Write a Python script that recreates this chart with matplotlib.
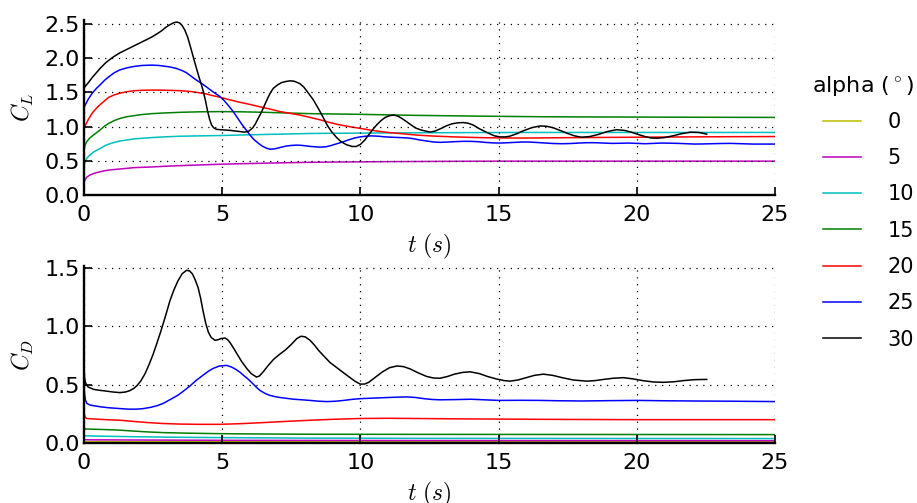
import matplotlib
matplotlib.use('Agg')
import matplotlib.pyplot as plt

plt.rcParams['mathtext.fontset'] = 'cm'
plt.rcParams['font.family'] = ['DejaVu Sans']

# ---------------- data ----------------
alpha_labels = ['0', '5', '10', '15', '20', '25', '30']
legend_title = r'alpha ($^\circ$)'

# Lift coefficient C_L
t_cl_a0 = [0.0, 25.0]
cl_a0 = [0.0, 0.0]

t_cl_a5 = [0.0, 0.03, 0.1, 0.2, 0.35, 0.58, 0.75, 0.9, 1.1, 1.3, 1.55, 1.8, 2.1, 2.45, 2.9, 3.5, 4.2,
           4.92, 5.7, 6.5, 7.3, 8.18, 9.0, 10.0, 11.0, 12.0, 13.5, 15.0, 25.0]
cl_a5 = [0.18, 0.22, 0.26, 0.29, 0.315, 0.34, 0.355, 0.365, 0.373, 0.38, 0.39, 0.40, 0.405, 0.41, 0.42, 0.43, 0.44,
         0.45, 0.458, 0.465, 0.472, 0.478, 0.482, 0.485, 0.488, 0.49, 0.493, 0.495, 0.495]

t_cl_a10 = [0.0, 0.03, 0.1, 0.2, 0.35, 0.58, 0.75, 0.9, 1.1, 1.3, 1.55, 1.8, 2.1, 2.45, 2.9, 3.5, 4.2,
            4.92, 5.7, 6.5, 7.3, 8.18, 9.0, 10.0, 11.0, 12.0, 14.0, 16.0, 20.0, 25.0]
cl_a10 = [0.42, 0.48, 0.54, 0.58, 0.63, 0.68, 0.72, 0.745, 0.77, 0.79, 0.805, 0.82, 0.83, 0.84, 0.85, 0.86, 0.865,
          0.87, 0.878, 0.885, 0.892, 0.90, 0.903, 0.905, 0.908, 0.91, 0.913, 0.915, 0.915, 0.915]

t_cl_a15 = [0.0, 0.03, 0.1, 0.2, 0.35, 0.58, 0.75, 0.9, 1.1, 1.3, 1.55, 1.8, 2.1, 2.45, 2.9, 3.5, 4.2,
            4.92, 5.7, 6.5, 7.3, 8.18, 9.0, 10.0, 11.0, 12.0, 13.0, 14.0, 15.2, 16.5, 18.0, 20.0, 22.5, 25.0]
cl_a15 = [0.65, 0.72, 0.78, 0.83, 0.88, 0.95, 1.01, 1.05, 1.09, 1.12, 1.145, 1.16, 1.177, 1.19, 1.20, 1.21, 1.217,
          1.22, 1.217, 1.21, 1.20, 1.19, 1.185, 1.18, 1.172, 1.165, 1.16, 1.155, 1.15, 1.145, 1.142, 1.14, 1.137, 1.135]

t_cl_a20 = [0.0, 0.05, 0.15, 0.3, 0.45, 0.58, 0.75, 0.9, 1.1, 1.3, 1.55, 1.8, 2.1, 2.45, 2.8, 3.2, 3.5,
            3.84, 4.1, 4.4, 4.65, 4.92, 5.25, 5.6, 6.0, 6.37, 6.75, 7.1, 7.45, 7.81, 8.18, 8.54, 8.9,
            9.2, 9.6, 9.99, 10.35, 10.7, 11.05, 11.43, 11.75, 12.1, 12.5, 12.88, 13.4, 14.0, 14.5,
            15.05, 15.8, 16.5, 17.3, 18.0, 19.0, 20.0, 21.0, 22.0, 23.5, 25.0]
cl_a20 = [0.98, 1.02, 1.10, 1.20, 1.27, 1.32, 1.38, 1.43, 1.465, 1.49, 1.51, 1.525, 1.532, 1.535, 1.534, 1.53, 1.525,
          1.515, 1.50, 1.48, 1.455, 1.43, 1.395, 1.36, 1.325, 1.29, 1.255, 1.22, 1.195, 1.17, 1.135, 1.10, 1.06,
          1.03, 1.0, 0.975, 0.95, 0.93, 0.913, 0.90, 0.887, 0.875, 0.865, 0.858, 0.85, 0.843, 0.838,
          0.835, 0.833, 0.835, 0.838, 0.84, 0.843, 0.845, 0.848, 0.85, 0.853, 0.855]

t_cl_a25 = [0.0, 0.05, 0.15, 0.3, 0.45, 0.58, 0.75, 0.9, 1.1, 1.3, 1.55, 1.8, 2.1, 2.45, 2.7, 2.9, 3.15,
            3.35, 3.55, 3.7, 3.9, 4.07, 4.3, 4.5, 4.7, 4.92, 5.05, 5.2, 5.4, 5.55, 5.7, 5.85, 6.0, 6.15,
            6.3, 6.45, 6.6, 6.73, 6.9, 7.1, 7.3, 7.5, 7.7, 7.9, 8.2, 8.54, 8.75, 8.95, 9.15, 9.35, 9.6,
            9.8, 9.99, 10.2, 10.4, 10.65, 10.9, 11.15, 11.43, 11.7, 11.9, 12.15, 12.4, 12.65, 12.88,
            13.15, 13.4, 13.7, 13.97, 14.25, 14.5, 14.8, 15.05, 15.35, 15.6, 15.85, 16.1, 16.4, 16.7,
            17.0, 17.3, 17.6, 17.9, 18.2, 18.5, 18.8, 19.1, 19.4, 19.7, 20.0, 20.3, 20.6, 20.9, 21.2,
            21.5, 21.8, 22.1, 22.4, 22.7, 23.0, 23.4, 23.8, 24.2, 24.6, 25.0]
cl_a25 = [1.28, 1.32, 1.40, 1.49, 1.56, 1.61, 1.68, 1.73, 1.79, 1.83, 1.86, 1.88, 1.895, 1.90, 1.895, 1.885, 1.87,
          1.85, 1.82, 1.79, 1.73, 1.68, 1.62, 1.56, 1.50, 1.44, 1.39, 1.32, 1.22, 1.13, 1.04, 0.96, 0.88, 0.81,
          0.76, 0.715, 0.685, 0.67, 0.675, 0.695, 0.715, 0.725, 0.73, 0.725, 0.71, 0.70, 0.705, 0.725, 0.75, 0.775, 0.81,
          0.835, 0.85, 0.86, 0.865, 0.86, 0.85, 0.845, 0.84, 0.835, 0.825, 0.805, 0.79, 0.775, 0.77,
          0.775, 0.78, 0.785, 0.785, 0.78, 0.77, 0.762, 0.76, 0.765, 0.77, 0.775, 0.775, 0.768, 0.76,
          0.753, 0.75, 0.753, 0.76, 0.765, 0.765, 0.76, 0.755, 0.757, 0.76, 0.755, 0.75, 0.755, 0.76, 0.758,
          0.755, 0.75, 0.745, 0.747, 0.75, 0.753, 0.755, 0.75, 0.745, 0.745, 0.745]

t_cl_a30 = [0.0, 0.03, 0.15, 0.3, 0.45, 0.6, 0.8, 1.06, 1.3, 1.6, 2.0, 2.25, 2.45, 2.65, 2.8, 2.95, 3.1,
            3.25, 3.35, 3.45, 3.55, 3.65, 3.75, 3.85, 3.96, 4.05, 4.15, 4.25, 4.32, 4.4, 4.47, 4.55, 4.62,
            4.7, 4.8, 4.94, 5.3, 5.6, 5.8, 5.95, 6.1, 6.2, 6.3, 6.43, 6.55, 6.65, 6.75, 6.85, 7.0, 7.15,
            7.3, 7.45, 7.6, 7.81, 7.95, 8.1, 8.3, 8.5, 8.66, 8.8, 8.95, 9.14, 9.3, 9.5, 9.7, 9.85, 10.0,
            10.15, 10.3, 10.45, 10.6, 10.75, 10.9, 11.05, 11.2, 11.35, 11.5, 11.68, 11.85, 12.0, 12.2,
            12.52, 12.7, 12.9, 13.1, 13.3, 13.5, 13.72, 13.9, 14.1, 14.3, 14.6, 14.85, 15.05, 15.25,
            15.4, 15.65, 15.9, 16.2, 16.5, 16.75, 17.0, 17.25, 17.5, 17.75, 18.0, 18.3, 18.6, 18.95,
            19.27, 19.55, 19.8, 20.05, 20.3, 20.5, 20.72, 21.0, 21.3, 21.6, 21.95, 22.25, 22.53]
cl_a30 = [1.70, 1.58, 1.64, 1.72, 1.79, 1.86, 1.94, 2.02, 2.08, 2.14, 2.22, 2.27, 2.31, 2.36, 2.40, 2.45, 2.49,
          2.52, 2.53, 2.52, 2.48, 2.41, 2.31, 2.17, 2.01, 1.88, 1.74, 1.61, 1.51, 1.37, 1.23, 1.10, 1.02,
          0.98, 0.96, 0.955, 0.945, 0.93, 0.92, 0.93, 0.98, 1.04, 1.12, 1.22, 1.33, 1.42, 1.50, 1.56, 1.61, 1.645,
          1.66, 1.67, 1.665, 1.63, 1.58, 1.50, 1.39, 1.25, 1.13, 1.02, 0.93, 0.84, 0.78, 0.735, 0.71, 0.71, 0.74,
          0.80, 0.88, 0.96, 1.03, 1.09, 1.135, 1.16, 1.17, 1.155, 1.12, 1.07, 1.02, 0.98, 0.95,
          0.92, 0.935, 0.97, 1.01, 1.04, 1.055, 1.06, 1.05, 1.02, 0.97, 0.91, 0.865, 0.85, 0.85,
          0.86, 0.895, 0.94, 0.985, 1.01, 1.005, 0.98, 0.94, 0.90, 0.865, 0.845, 0.855, 0.885, 0.93,
          0.955, 0.945, 0.92, 0.885, 0.855, 0.835, 0.83, 0.84, 0.865, 0.895, 0.92, 0.915, 0.89]

# Drag coefficient C_D
t_cd_a0 = [0.0, 25.0]
cd_a0 = [0.012, 0.01]

t_cd_a5 = [0.0, 0.03, 0.3, 5.0, 12.0, 25.0]
cd_a5 = [0.035, 0.028, 0.027, 0.023, 0.021, 0.02]

t_cd_a10 = [0.0, 0.03, 0.3, 1.5, 3.0, 5.0, 8.0, 12.0, 25.0]
cd_a10 = [0.07, 0.062, 0.06, 0.055, 0.05, 0.046, 0.042, 0.04, 0.038]

t_cd_a15 = [0.0, 0.02, 0.05, 0.5, 1.0, 1.3, 1.8, 2.3, 2.87, 3.8, 4.92, 6.5, 8.18, 12.0, 25.0]
cd_a15 = [0.14, 0.125, 0.12, 0.117, 0.113, 0.11, 0.102, 0.095, 0.089, 0.084, 0.08, 0.077, 0.075, 0.074, 0.072]

t_cd_a20 = [0.0, 0.02, 0.05, 0.1, 0.4, 0.8, 1.3, 1.8, 2.3, 2.87, 3.5, 4.2, 4.92, 5.7, 6.5, 7.3, 8.18,
            9.0, 10.0, 11.0, 12.0, 13.5, 15.0, 17.5, 20.0, 25.0]
cd_a20 = [0.27, 0.235, 0.22, 0.21, 0.205, 0.2, 0.195, 0.185, 0.175, 0.167, 0.162, 0.16, 0.16, 0.166, 0.175, 0.185, 0.195,
          0.203, 0.21, 0.212, 0.21, 0.207, 0.205, 0.202, 0.20, 0.20]

t_cd_a25 = [0.0, 0.02, 0.05, 0.1, 0.2, 0.34, 0.6, 0.9, 1.3, 1.6, 1.91, 2.15, 2.4, 2.65, 2.87, 3.1, 3.4,
            3.6, 3.84, 4.05, 4.3, 4.5, 4.68, 4.9, 5.16, 5.35, 5.5, 5.65, 5.77, 5.95, 6.1, 6.25, 6.37,
            6.55, 6.7, 6.9, 7.09, 7.35, 7.6, 7.9, 8.18, 8.5, 8.78, 9.1, 9.4, 9.7, 9.99, 10.5, 11.0,
            11.35, 11.68, 12.0, 12.3, 12.6, 12.88, 13.4, 14.0, 14.5, 15.0, 15.8, 16.5, 17.2, 18.0,
            19.0, 20.0, 21.0, 22.0, 23.5, 25.0]
cd_a25 = [0.50, 0.42, 0.37, 0.34, 0.327, 0.32, 0.31, 0.302, 0.295, 0.29, 0.29, 0.295, 0.305, 0.32, 0.34, 0.37, 0.41,
          0.445, 0.49, 0.535, 0.58, 0.615, 0.64, 0.66, 0.665, 0.65, 0.63, 0.605, 0.58, 0.545, 0.51, 0.475, 0.45,
          0.425, 0.41, 0.398, 0.39, 0.382, 0.375, 0.37, 0.365, 0.358, 0.355, 0.358, 0.365, 0.374, 0.38, 0.385, 0.39,
          0.393, 0.395, 0.39, 0.38, 0.373, 0.37, 0.372, 0.375, 0.37, 0.365, 0.366, 0.365, 0.362, 0.36,
          0.363, 0.365, 0.362, 0.36, 0.358, 0.355]

t_cd_a30 = [0.0, 0.02, 0.05, 0.1, 0.15, 0.25, 0.34, 0.55, 0.8, 1.05, 1.3, 1.5, 1.65, 1.8, 1.91, 2.05, 2.2,
            2.35, 2.5, 2.63, 2.77, 2.9, 3.0, 3.11, 3.25, 3.4, 3.55, 3.71, 3.82, 3.92, 4.02, 4.13, 4.22,
            4.3, 4.4, 4.5, 4.6, 4.74, 4.85, 4.95, 5.1, 5.2, 5.3, 5.42, 5.52, 5.7, 5.9, 6.05, 6.24, 6.35,
            6.5, 6.65, 6.85, 7.05, 7.3, 7.5, 7.7, 7.85, 8.0, 8.18, 8.35, 8.5, 8.7, 8.9, 9.15, 9.4, 9.6,
            9.8, 9.99, 10.15, 10.3, 10.55, 10.8, 11.05, 11.32, 11.55, 11.8, 12.1, 12.4, 12.65, 12.88,
            13.15, 13.4, 13.7, 13.97, 14.3, 14.6, 14.9, 15.2, 15.41, 15.7, 16.0, 16.3, 16.62, 16.95,
            17.3, 17.7, 18.19, 18.5, 18.8, 19.15, 19.51, 19.85, 20.2, 20.6, 20.96, 21.35, 21.7, 22.1, 22.53]
cd_a30 = [0.65, 0.56, 0.52, 0.495, 0.48, 0.47, 0.46, 0.452, 0.445, 0.437, 0.432, 0.437, 0.448, 0.468, 0.49, 0.53, 0.59,
          0.67, 0.76, 0.85, 0.95, 1.05, 1.13, 1.22, 1.31, 1.39, 1.45, 1.48, 1.475, 1.45, 1.40, 1.33, 1.24,
          1.14, 1.03, 0.95, 0.905, 0.88, 0.885, 0.895, 0.90, 0.885, 0.855, 0.81, 0.77, 0.70, 0.635, 0.595, 0.565, 0.575,
          0.615, 0.66, 0.715, 0.755, 0.80, 0.845, 0.895, 0.915, 0.91, 0.88, 0.835, 0.79, 0.74, 0.69, 0.645, 0.60, 0.565,
          0.53, 0.505, 0.505, 0.52, 0.565, 0.61, 0.645, 0.66, 0.655, 0.635, 0.60, 0.57, 0.557, 0.555,
          0.57, 0.59, 0.605, 0.61, 0.595, 0.57, 0.55, 0.535, 0.53, 0.54, 0.56, 0.58, 0.59, 0.58,
          0.56, 0.54, 0.53, 0.535, 0.545, 0.555, 0.56, 0.55, 0.535, 0.523, 0.52, 0.525, 0.535, 0.543, 0.545]

cl_series = [(t_cl_a0, cl_a0), (t_cl_a5, cl_a5), (t_cl_a10, cl_a10), (t_cl_a15, cl_a15),
             (t_cl_a20, cl_a20), (t_cl_a25, cl_a25), (t_cl_a30, cl_a30)]
cd_series = [(t_cd_a0, cd_a0), (t_cd_a5, cd_a5), (t_cd_a10, cd_a10), (t_cd_a15, cd_a15),
             (t_cd_a20, cd_a20), (t_cd_a25, cd_a25), (t_cd_a30, cd_a30)]

cl_ticks = [0.0, 0.5, 1.0, 1.5, 2.0, 2.5]
cd_ticks = [0.0, 0.5, 1.0, 1.5]
t_ticks = [0, 5, 10, 15, 20, 25]

# ---------------- style ----------------
colors = [(0.75, 0.75, 0), (0.75, 0, 0.75), (0, 0.75, 0.75), (0, 0.5, 0), (1, 0, 0), (0, 0, 1), (0, 0, 0)]

W, H = 917, 503
fig = plt.figure(figsize=(W / 100, H / 100), dpi=100)

def box(x0, y0, x1, y1):
    return [x0 / W, 1 - y1 / H, (x1 - x0) / W, (y1 - y0) / H]

ax1 = fig.add_axes(box(84, 20, 775, 195))
ax2 = fig.add_axes(box(84, 266, 775, 443))

def style(ax, ylabel, yticks, ytop, hpx):
    ax.set_xlim(0, 25)
    ax.set_ylim(0, ytop)
    ax.set_xticks(t_ticks)
    ax.set_yticks(yticks)
    for s in ['top', 'right']:
        ax.spines[s].set_visible(False)
    for s in ['left', 'bottom']:
        ax.spines[s].set_linewidth(1.7)
        ax.spines[s].set_zorder(5)
    ax.tick_params(direction='in', length=6, width=1.2, labelsize=16, top=False, right=False)
    ax.tick_params(axis='y', pad=3)
    ax.tick_params(axis='x', pad=7)
    ax.grid(True, color='black', linestyle=(0, (1.0, 4.5)), linewidth=0.9)
    ax.set_axisbelow(False)
    ax.set_xlabel(r'$t\ (s)$', fontsize=17)
    ax.set_ylabel(ylabel, fontsize=17, labelpad=6)
    ax.xaxis.set_label_coords(0.5, -37.0 / hpx)

handles = []
for (t, v), c, lab in zip(cl_series, colors, alpha_labels):
    h, = ax1.plot(t, v, color=c, lw=1.1, label=lab)
    handles.append(h)
for (t, v), c in zip(cd_series, colors):
    ax2.plot(t, v, color=c, lw=1.1)

style(ax1, r'$C_L$', cl_ticks, 2.56, 175.0)
style(ax2, r'$C_D$', cd_ticks, 1.517, 177.0)

fig.text(863 / W, 1 - 86 / H, legend_title, fontsize=16, ha='center', va='center')
leg = fig.legend(handles, alpha_labels, loc='upper left',
                 bbox_to_anchor=(822.5 / W, 1 - 112 / H), frameon=False, fontsize=15,
                 handlelength=1.83, handletextpad=1.3, labelspacing=0.78,
                 borderpad=0, borderaxespad=0)

fig.savefig('out.png', dpi=100)
